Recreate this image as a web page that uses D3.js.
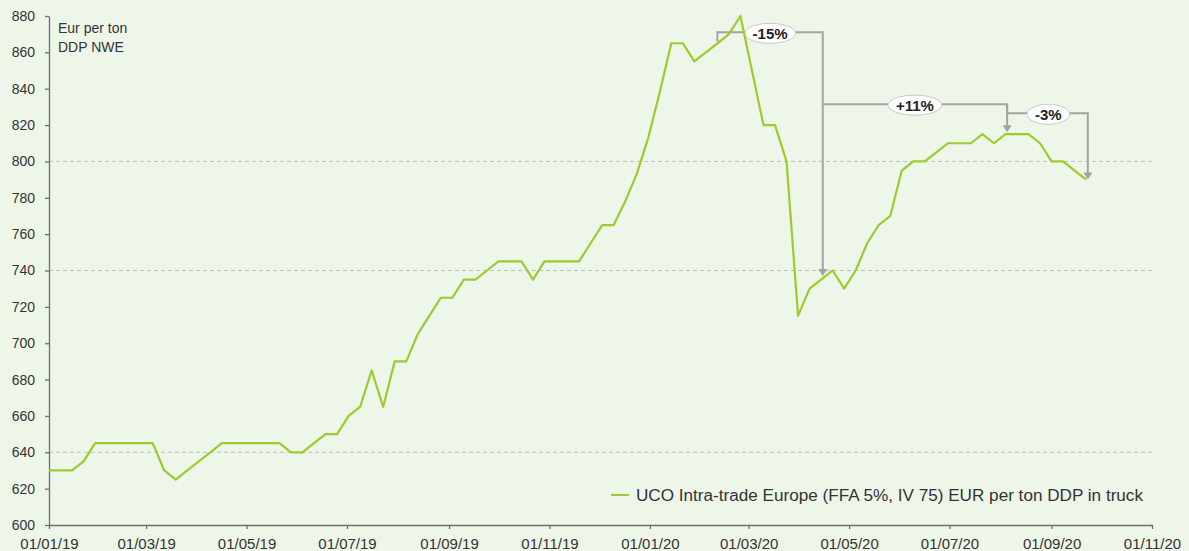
<!DOCTYPE html>
<html lang="en">
<head>
    <meta charset="UTF-8" />
    <script src="https://d3js.org/d3.v7.min.js"></script>
    <title>UCO price</title>
    <style>
        html, body { margin: 0; padding: 0; background: #eef6ea; }
        svg { display: block; font-family: "Liberation Sans", Arial, sans-serif; }
    </style>
</head>
<body>
<svg></svg>
<script>
    // weekly quotes
    const dates = [
        "2019-01-01","2019-01-08","2019-01-15","2019-01-22","2019-01-29","2019-02-05","2019-02-12","2019-02-19","2019-02-26",
        "2019-03-05","2019-03-12","2019-03-19","2019-03-26","2019-04-02","2019-04-09","2019-04-16","2019-04-23","2019-04-30",
        "2019-05-07","2019-05-14","2019-05-21","2019-05-28","2019-06-04","2019-06-11","2019-06-18","2019-06-25",
        "2019-07-02","2019-07-09","2019-07-16","2019-07-23","2019-07-30","2019-08-06","2019-08-13","2019-08-20","2019-08-27",
        "2019-09-03","2019-09-10","2019-09-17","2019-09-24","2019-10-01","2019-10-08","2019-10-15","2019-10-22","2019-10-29",
        "2019-11-05","2019-11-12","2019-11-19","2019-11-26","2019-12-03","2019-12-10","2019-12-17","2019-12-24","2019-12-31",
        "2020-01-07","2020-01-14","2020-01-21","2020-01-28","2020-02-04","2020-02-11","2020-02-18","2020-02-25",
        "2020-03-03","2020-03-10","2020-03-17","2020-03-24","2020-03-31","2020-04-07","2020-04-14","2020-04-21","2020-04-28",
        "2020-05-05","2020-05-12","2020-05-19","2020-05-26","2020-06-02","2020-06-09","2020-06-16","2020-06-23","2020-06-30",
        "2020-07-07","2020-07-14","2020-07-21","2020-07-28","2020-08-04","2020-08-11","2020-08-18","2020-08-25",
        "2020-09-01","2020-09-08","2020-09-15","2020-09-22"
    ];
    const prices = [
        630, 630, 630, 635, 645, 645, 645, 645, 645,
        645, 630, 625, 630, 635, 640, 645, 645, 645,
        645, 645, 645, 640, 640, 645, 650, 650,
        660, 665, 685, 665, 690, 690, 705, 715, 725,
        725, 735, 735, 740, 745, 745, 745, 735, 745,
        745, 745, 745, 755, 765, 765, 778, 793, 813,
        838, 865, 865, 855, 860, 865, 870, 880,
        850, 820, 820, 800, 715, 730, 735, 740, 730,
        740, 755, 765, 770, 795, 800, 800, 805, 810,
        810, 810, 815, 810, 815, 815, 815, 810,
        800, 800, 795, 790
    ];

    const yTicks = [600, 620, 640, 660, 680, 700, 720, 740, 760, 780, 800, 820, 840, 860, 880];
    const xTickDates = ["2019-01-01","2019-03-01","2019-05-01","2019-07-01","2019-09-01","2019-11-01",
                        "2020-01-01","2020-03-01","2020-05-01","2020-07-01","2020-09-01","2020-11-01"];
    const gridValues = [640, 740, 800];

    // bracket annotations: label, start date, end date, bracket level, start foot, arrow target
    const annLabels = ["-15%", "+11%", "-3%"];
    const annFrom   = ["2020-02-11", "2020-04-15", "2020-08-05"];
    const annTo     = ["2020-04-15", "2020-08-05", "2020-09-23"];
    const annLevel  = [871, 831.5, 826.5];
    const annFoot   = [866, null, 831.5];
    const annTarget = [737, 816, 790];
    const annLabelX = ["2020-03-14", "2020-06-10", "2020-08-30"];

    const legendText = "UCO Intra-trade Europe (FFA 5%, IV 75) EUR per ton DDP in truck";

    const width = 1189, height = 551;
    const margin = {top: 16, right: 37, bottom: 26, left: 49};
    const parse = d3.timeParse("%Y-%m-%d");

    const svg = d3.select("svg")
        .attr("width", width)
        .attr("height", height);

    svg.append("rect").attr("width", width).attr("height", height).attr("fill", "#eef6ea");

    const x = d3.scaleTime()
        .domain([parse("2019-01-01"), parse("2020-11-01")])
        .range([margin.left, width - margin.right]);
    const y = d3.scaleLinear()
        .domain([600, 880])
        .range([height - margin.bottom, margin.top]);

    const axisColor = "#6e6e6e";
    const textColor = "#333";
    const annColor = "#a3a3a3";
    const lineColor = "#9ccb2c";

    // dashed reference lines
    svg.append("g")
        .selectAll("line")
        .data(gridValues)
        .join("line")
        .attr("x1", margin.left)
        .attr("x2", width - margin.right)
        .attr("y1", d => y(d))
        .attr("y2", d => y(d))
        .attr("stroke", "#bcc0ba")
        .attr("stroke-width", 1)
        .attr("stroke-dasharray", "4,3");

    // y axis
    const yAxis = svg.append("g")
        .attr("transform", `translate(${margin.left},0)`)
        .call(d3.axisLeft(y).tickValues(yTicks).tickSize(4).tickPadding(10).tickSizeOuter(0));
    // x axis
    const xAxis = svg.append("g")
        .attr("transform", `translate(0,${height - margin.bottom})`)
        .call(d3.axisBottom(x).tickValues(xTickDates.map(parse)).tickFormat(d3.timeFormat("%d/%m/%y"))
            .tickSize(4).tickPadding(9).tickSizeOuter(0));

    [yAxis, xAxis].forEach(g => {
        g.select(".domain").attr("stroke", axisColor).attr("stroke-width", 1.3);
        g.selectAll(".tick line").attr("stroke", axisColor).attr("stroke-width", 1.3);
        g.selectAll("text").attr("fill", textColor);
    });
    yAxis.selectAll("text").style("font-size", "14px");
    xAxis.selectAll("text").style("font-size", "15px");

    // unit label
    svg.append("text").attr("x", 58).attr("y", 33).attr("fill", textColor)
        .style("font-size", "14px").text("Eur per ton");
    svg.append("text").attr("x", 58).attr("y", 52).attr("fill", textColor)
        .style("font-size", "14px").text("DDP NWE");

    // annotations
    const annG = svg.append("g");
    annLabels.forEach((lab, i) => {
        const x1 = x(parse(annFrom[i])), x2 = x(parse(annTo[i]));
        const yl = y(annLevel[i]), yt = y(annTarget[i]);
        const pts = [];
        if (annFoot[i] !== null) pts.push([x1, y(annFoot[i])]);
        pts.push([x1, yl], [x2, yl], [x2, yt - 6]);
        annG.append("path")
            .attr("d", d3.line()(pts))
            .attr("fill", "none")
            .attr("stroke", annColor)
            .attr("stroke-width", 2);
        annG.append("path")
            .attr("d", `M${x2 - 4.5},${yt - 7}L${x2 + 4.5},${yt - 7}L${x2},${yt}Z`)
            .attr("fill", annColor);
    });
    annLabels.forEach((lab, i) => {
        const cx = x(parse(annLabelX[i])), cy = y(annLevel[i]) + 1;
        const lg = annG.append("g");
        const t = lg.append("text")
            .attr("x", cx).attr("y", cy + 5.5)
            .attr("text-anchor", "middle")
            .attr("fill", "#222")
            .style("font-size", "15px")
            .style("font-weight", "bold")
            .text(lab);
        const w = t.node().getComputedTextLength();
        lg.insert("ellipse", "text")
            .attr("cx", cx).attr("cy", cy)
            .attr("rx", w / 2 + 8).attr("ry", 10)
            .attr("fill", "#ffffff")
            .attr("stroke", "#c9c9c9")
            .attr("stroke-width", 1);
    });

    // price line
    const series = dates.map((d, i) => ({date: parse(d), value: prices[i]}));
    svg.append("path")
        .datum(series)
        .attr("d", d3.line().x(d => x(d.date)).y(d => y(d.value)))
        .attr("fill", "none")
        .attr("stroke", lineColor)
        .attr("stroke-width", 2.2)
        .attr("stroke-linejoin", "round");

    // legend
    svg.append("line")
        .attr("x1", 611).attr("x2", 629).attr("y1", 495).attr("y2", 495)
        .attr("stroke", lineColor).attr("stroke-width", 2);
    svg.append("text")
        .attr("x", 636).attr("y", 501)
        .attr("fill", textColor)
        .attr("textLength", 507)
        .attr("lengthAdjust", "spacingAndGlyphs")
        .style("font-size", "16px")
        .text(legendText);
</script>
</body>
</html>
